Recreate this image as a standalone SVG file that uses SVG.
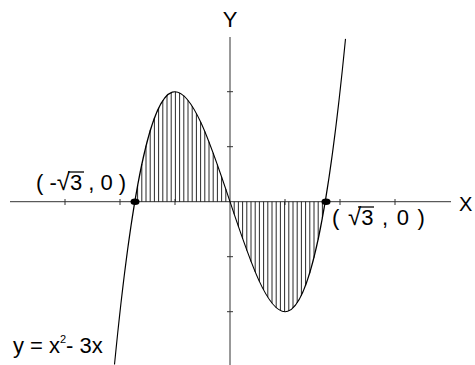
<svg xmlns="http://www.w3.org/2000/svg" width="475" height="365" viewBox="0 0 475 365">
<style>
.axis{stroke:#333;stroke-width:1;fill:none}
.tick{stroke:#333;stroke-width:1}
.curve{stroke:#000;stroke-width:1.1;fill:none}
.hatch{stroke:#111;stroke-width:0.9}
.lbl{font-family:"Liberation Sans",Arial,sans-serif;font-size:22px;fill:#000}
.rad{font-size:24px}
.bar{stroke:#000;stroke-width:1.3}
</style>
<rect width="475" height="365" fill="#fff"/>
<g id="axes">
<line class="axis" x1="10" y1="201.7" x2="451" y2="201.7"/>
<line class="axis" x1="230" y1="37" x2="230" y2="365"/>
<path class="tick" d="M65 199V205M120 199V205M175 199V205M285 199V205M340 199V205M395 199V205M227 91.7H233M227 146.7H233M227 256.7H233M227 311.7H233"/>
</g>
<g id="hatching">
<path class="hatch" d="M225.8 201.7V189.12M221.6 201.7V176.70M217.4 201.7V164.56M213.2 201.7V152.87M209 201.7V141.76M204.8 201.7V131.39M200.6 201.7V121.90M196.4 201.7V113.44M192.2 201.7V106.16M188 201.7V100.19M183.8 201.7V95.70M179.6 201.7V92.82M175.4 201.7V91.71M171.2 201.7V92.51M167 201.7V95.36M162.8 201.7V100.42M158.6 201.7V107.83M154.4 201.7V117.74M150.2 201.7V130.29M146 201.7V145.64M141.8 201.7V163.92M137.6 201.7V185.29"/>
<path class="hatch" d="M234.2 201.7V214.28M238.4 201.7V226.70M242.6 201.7V238.84M246.8 201.7V250.53M251 201.7V261.64M255.2 201.7V272.01M259.4 201.7V281.50M263.6 201.7V289.96M267.8 201.7V297.25M272 201.7V303.21M276.2 201.7V307.70M280.4 201.7V310.58M284.6 201.7V311.69M288.8 201.7V310.89M293 201.7V308.04M297.2 201.7V302.98M301.4 201.7V295.57M305.6 201.7V285.66M309.8 201.7V273.11M314 201.7V257.77M318.2 201.7V239.48M322.4 201.7V218.11"/>
</g>
<g id="curve">
<path class="curve" d="M114.5 364.555C191.5 -423.155 268.5 826.555 345.5 38.845"/>
</g>
<g id="root-left">
<ellipse cx="135" cy="201.7" rx="4.5" ry="3.3" fill="#000"/>
</g>
<g id="root-right">
<ellipse cx="326" cy="201.7" rx="4.5" ry="3.3" fill="#000"/>
</g>
<g id="label-y"><text class="lbl" x="230" y="27" text-anchor="middle">Y</text></g>
<g id="label-x"><text class="lbl" x="459" y="211" style="font-size:20px">X</text></g>
<g id="label-left">
<text class="lbl" x="36" y="190" xml:space="preserve">( -<tspan class="rad">√</tspan>3 , 0 )</text>
<line class="bar" x1="68" y1="172" x2="84" y2="172"/>
</g>
<g id="label-right">
<text class="lbl" x="332" y="225" xml:space="preserve" word-spacing="2.5">( <tspan class="rad">√</tspan>3 , 0 )</text>
<line class="bar" x1="358" y1="207" x2="374" y2="207"/>
</g>
<g id="label-eq">
<text class="lbl" y="353" xml:space="preserve"><tspan x="13">y = x</tspan><tspan x="60" font-size="11" dy="-10">2</tspan><tspan x="66" dy="10">- 3x</tspan></text>
</g>
</svg>
